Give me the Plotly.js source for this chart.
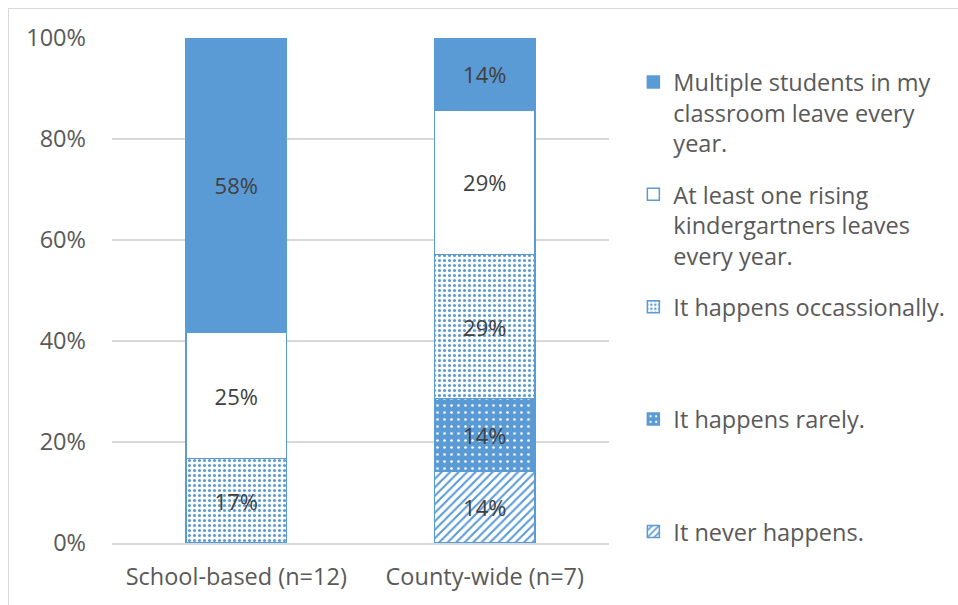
<!DOCTYPE html>
<html>
<head>
<meta charset="utf-8">
<script src="https://cdn.plot.ly/plotly-3.0.1.min.js"></script>
<style>
  html, body { margin: 0; padding: 0; background: #ffffff; }
  #wrap { position: relative; width: 958px; height: 605px; overflow: hidden; }
  #chart { width: 958px; height: 605px; }
  #frame { position: absolute; left: 8px; top: 8px; width: 1000px; height: 700px;
           border-left: 1.5px solid #D9D9D9; border-top: 1.5px solid #D9D9D9; pointer-events: none; }
</style>
</head>
<body>
<div id="wrap">
  <div id="chart"></div>
  <div id="frame"></div>
</div>
<script>
// Categories
var categories = ['School-based (n=12)', 'County-wide (n=7)'];

// Series values (percent of respondents)
var neverHappens   = [null, 14.29];
var happensRarely  = [null, 14.29];
var occasionally   = [16.7, 28.57];
var atLeastOne     = [25.0, 28.57];
var multipleLeave  = [58.3, 14.28];

// Legend labels
var seriesNames = [
  'It never happens.',
  'It happens rarely.',
  'It happens occassionally.',
  'At least one rising<br>kindergartners leaves<br>every year.',
  'Multiple students in my<br>classroom leave every<br>year.'
];
var pad = '<br>\u00a0<br>\u00a0';

// Y ticks
var yTickVals = [0, 20, 40, 60, 80, 100];
var yTickText = ['0%', '20%', '40%', '60%', '80%', '100%'];

var BLUE = '#5B9BD5';
var TXT = '#404040';
var FONT = '"Open Sans", "Noto Sans", sans-serif';
var FS = 23.5;

function mk(name, vals, pattern, color, group, rank) {
  return {
    type: 'bar',
    x: categories,
    y: vals,
    name: name,
    legendgroup: group,
    legendrank: rank,
    marker: {
      color: color,
      line: { color: BLUE, width: 1.5 },
      pattern: pattern
    },
    texttemplate: '%{y:.0f}%',
    textposition: 'inside',
    insidetextanchor: 'middle',
    textangle: 0,
    constraintext: 'none',
    textfont: { family: FONT, size: 22, color: TXT },
    hoverinfo: 'skip'
  };
}

var traces = [
  mk(seriesNames[0] + pad, neverHappens,
     { shape: '/', fgcolor: BLUE, bgcolor: '#ffffff', size: 6, solidity: 0.35, fillmode: 'replace' }, '#ffffff', 'g1', 5),
  mk(seriesNames[1] + pad, happensRarely,
     { shape: '.', fgcolor: '#ffffff', bgcolor: BLUE, size: 7, solidity: 0.12, fillmode: 'replace' }, BLUE, 'g2', 4),
  mk(seriesNames[2] + pad, occasionally,
     { shape: '.', fgcolor: BLUE, bgcolor: '#ffffff', size: 5, solidity: 0.3, fillmode: 'replace' }, '#ffffff', 'g3', 3),
  mk(seriesNames[3], atLeastOne, { shape: '' }, '#ffffff', 'g4', 2),
  mk(seriesNames[4], multipleLeave, { shape: '' }, BLUE, 'g5', 1)
];

var layout = {
  width: 958,
  height: 605,
  barmode: 'stack',
  bargap: 0.595,
  paper_bgcolor: '#ffffff',
  plot_bgcolor: '#ffffff',
  margin: { l: 111.5, r: 348.5, t: 38, b: 62, pad: 0, autoexpand: false },
  font: { family: FONT, size: FS, color: '#595959' },
  showlegend: true,
  legend: {
    x: 1.049, xanchor: 'left',
    y: 0.956, yanchor: 'top',
    traceorder: 'grouped',
    tracegroupgap: 17.7,
    valign: 'top',
    font: { family: FONT, size: FS, color: '#595959' },
    bgcolor: 'rgba(0,0,0,0)'
  },
  xaxis: {
    type: 'category',
    range: [-0.5, 1.5],
    showgrid: false,
    showline: true,
    linecolor: '#D9D9D9',
    linewidth: 1.5,
    ticks: '',
    ticklabelstandoff: 12,
    tickfont: { family: FONT, size: FS, color: '#595959' }
  },
  yaxis: {
    range: [0, 100],
    tickvals: yTickVals,
    ticktext: yTickText,
    showgrid: true,
    gridcolor: '#D9D9D9',
    gridwidth: 1.5,
    zeroline: false,
    showline: false,
    ticks: '',
    ticklabelstandoff: 25,
    tickfont: { family: FONT, size: FS, color: '#595959' }
  }
};

Plotly.newPlot('chart', traces, layout, { staticPlot: true, displayModeBar: false });
</script>
</body>
</html>
